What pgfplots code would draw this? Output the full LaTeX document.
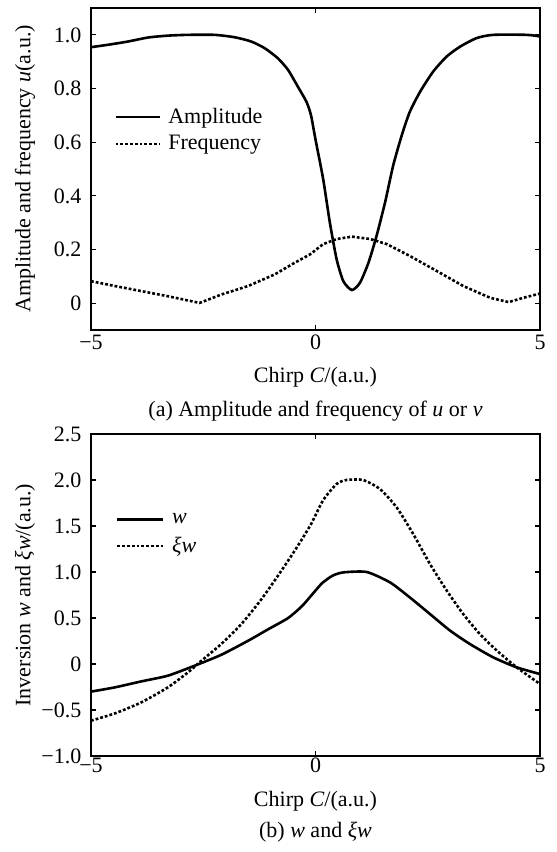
\documentclass[border=0pt]{standalone}
\usepackage{fontspec}
\setmainfont{Liberation Serif}
\usepackage{pgfplots}
\pgfplotsset{compat=1.18}

\pgfplotstableread{
C u
-5.00 0.954
-4.62 0.963
-4.18 0.975
-3.73 0.990
-3.29 0.997
-2.84 1.000
-2.25 1.000
-1.80 0.991
-1.43 0.975
-1.13 0.950
-0.84 0.913
-0.61 0.869
-0.39 0.806
-0.20 0.750
-0.10 0.700
0.00 0.610
0.17 0.463
0.32 0.300
0.47 0.164
0.62 0.082
0.81 0.049
0.99 0.076
1.18 0.151
1.36 0.251
1.55 0.376
1.73 0.513
1.92 0.625
2.10 0.713
2.33 0.788
2.62 0.863
2.92 0.919
3.22 0.956
3.59 0.988
3.96 1.000
4.70 1.000
5.00 0.994
}\amp

\pgfplotstableread{
C f
-5.00 0.082
-4.47 0.064
-3.88 0.045
-3.29 0.026
-2.84 0.010
-2.58 0.001
-2.10 0.032
-1.50 0.064
-0.91 0.107
-0.46 0.151
-0.12 0.182
0.17 0.220
0.47 0.239
0.81 0.248
1.22 0.239
1.59 0.220
2.10 0.176
2.70 0.120
3.29 0.064
3.89 0.020
4.30 0.004
4.63 0.020
5.00 0.036
}\freq

\pgfplotstableread{
C w
-5.00 -0.300
-4.47 -0.254
-3.88 -0.189
-3.29 -0.127
-2.69 -0.018
-2.10 0.100
-1.50 0.253
-1.06 0.376
-0.61 0.500
-0.30 0.630
-0.05 0.770
0.15 0.880
0.38 0.960
0.62 0.996
1.14 1.000
1.66 0.887
2.10 0.724
2.55 0.543
3.00 0.362
3.44 0.217
3.96 0.072
4.48 -0.036
5.00 -0.109
}\wdat

\pgfplotstableread{
C xw
-5.00 -0.616
-4.47 -0.537
-3.88 -0.417
-3.29 -0.254
-2.84 -0.091
-2.54 0.036
-2.10 0.217
-1.65 0.435
-1.20 0.707
-0.76 1.014
-0.40 1.280
-0.10 1.520
0.17 1.780
0.47 1.957
0.69 2.000
1.06 2.000
1.44 1.900
1.81 1.700
2.18 1.410
2.55 1.087
2.92 0.800
3.29 0.543
3.66 0.326
4.04 0.145
4.48 -0.036
5.00 -0.217
}\xwdat

\pgfplotsset{
  myaxis/.style={
    scale only axis, width=224.5pt, height=161pt,
    xmin=-5, xmax=5, xtick={-5,0,5}, xticklabels={−5,0,5},
    tick align=inside, tick pos=both, major tick length=2.5pt,
    axis line style={line width=0.6pt},
    every tick/.style={black, line width=0.6pt},
    clip mode=individual,
    yticklabel style={xshift=-1pt},
    ylabel style={at={(axis description cs:-0.147,0.5)}, anchor=center},
    legend cell align=left,
    legend style={draw=none, fill=none, inner sep=0pt,
      nodes={inner sep=1.2pt},
      /tikz/every odd column/.append style={column sep=2.5pt}},
  },
  solidline/.style={black, line width=1.3pt},
  dotline/.style={black, line width=1.3pt, dash pattern=on 1.4pt off 1pt},
}

\begin{document}
\fontsize{11pt}{13pt}\selectfont
\begin{tikzpicture}
\useasboundingbox (0,0) rectangle (278.5pt,-426pt);
\begin{axis}[myaxis,
  at={(45.5pt,-165pt)}, anchor=south west,
  ymin=-0.1, ymax=1.1,
  ytick={0,0.2,0.4,0.6,0.8,1.0},
  yticklabels={0,0.2,0.4,0.6,0.8,1.0},
  xticklabel style={anchor=center, yshift=-6pt},
  xlabel={Chirp \textit{C}/(a.u.)},
  xlabel style={at={(axis description cs:0.5,-0.146)}, anchor=center},
  ylabel={Amplitude and frequency \textit{u}(a.u.)},
  legend style={at={(axis description cs:0.051,0.62)}, anchor=west, row sep=2pt},
  legend image code/.code={\draw[#1, line width=1.3pt] (0pt,0pt) -- (22pt,0pt);},
]
\addplot[solidline, smooth, tension=0.4] table[x=C,y=u] {\amp};
\addlegendentry{Amplitude}
\addplot[dotline] table[x=C,y=f] {\freq};
\addlegendentry{Frequency}
\node at (axis description cs:0.5,-0.252) {(a) Amplitude and frequency of \textit{u} or \textit{v}};
\end{axis}

\begin{axis}[myaxis,
  at={(45.5pt,-378pt)}, anchor=south west,
  ymin=-1, ymax=2.5,
  ytick={-1,-0.5,0,0.5,1,1.5,2,2.5},
  yticklabels={−1.0,−0.5,0,0.5,1.0,1.5,2.0,2.5},
  xticklabel style={anchor=center, yshift=-4.5pt},
  xlabel={Chirp \textit{C}/(a.u.)},
  xlabel style={at={(axis description cs:0.5,-0.141)}, anchor=center},
  ylabel={Inversion \textit{w} and \textit{ξw}/(a.u.)},
  legend style={at={(axis description cs:0.055,0.689)}, anchor=west, row sep=2.8pt},
  legend image code/.code={\draw[#1, line width=1.3pt] (0pt,0pt) -- (23pt,0pt);},
]
\addplot[solidline, smooth, tension=0.4] table[x=C,y=w] {\wdat};
\addlegendentry{\textit{w}}
\addplot[dotline, smooth, tension=0.4] table[x=C,y=xw] {\xwdat};
\addlegendentry{\textit{ξw}}
\node at (axis description cs:0.5,-0.236) {(b) \textit{w} and \textit{ξw}};
\end{axis}
\end{tikzpicture}
\end{document}
